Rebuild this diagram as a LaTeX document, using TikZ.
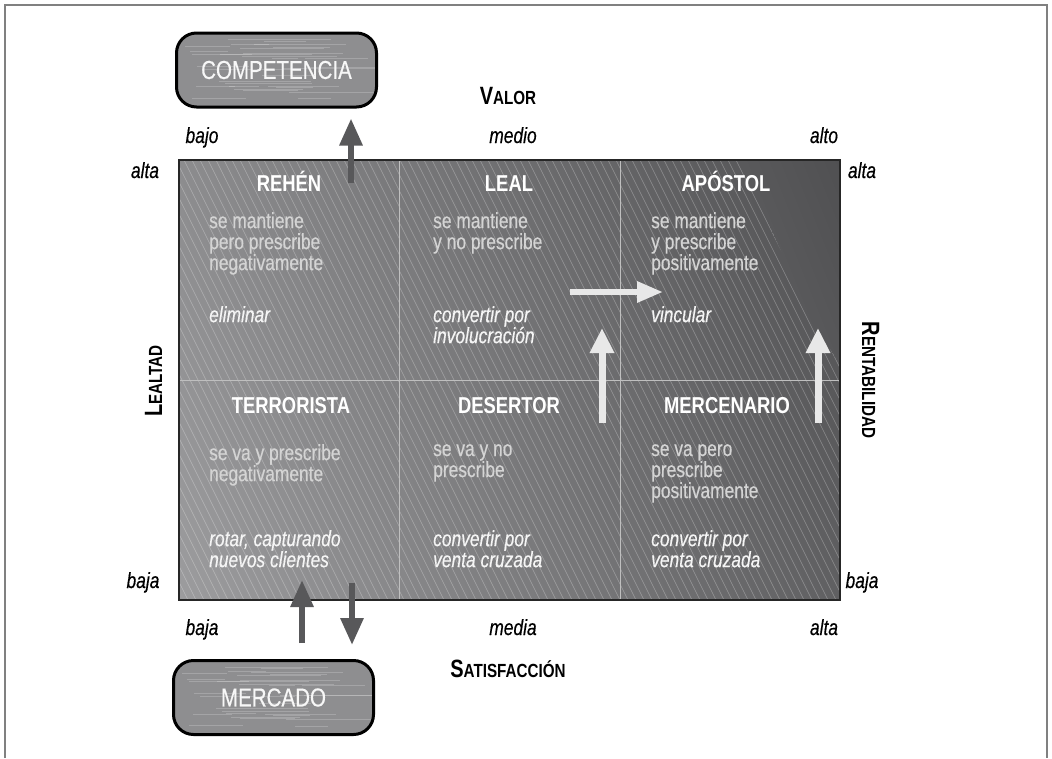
\documentclass[tikz,border=0pt]{standalone}
\usepackage{fontspec}
\setmainfont{Liberation Sans}[FakeStretch=0.8]
\newfontfamily\cellfont{Liberation Sans}[FakeStretch=0.79, FakeBold=0.35]
\usetikzlibrary{positioning,arrows.meta,calc,shadings}
\definecolor{darkarr}{HTML}{58585A}
\definecolor{boxgray}{HTML}{8E8E90}
\definecolor{gul}{HTML}{8C8C8E}
\definecolor{gur}{HTML}{505052}
\definecolor{gll}{HTML}{9C9C9E}
\definecolor{glr}{HTML}{606062}

\begin{document}
\begin{tikzpicture}[
    x=1pt, y=-1pt,
    cellhead/.style={font=\fontsize{23}{23}\selectfont\bfseries, text=white, anchor=base},
    celltext/.style={font=\cellfont\fontsize{22}{21}\selectfont, text=black!17, align=left, anchor=north west, inner sep=0pt},
    cellact/.style={font=\cellfont\fontsize{22}{21}\selectfont\itshape, text=black!4, align=left, anchor=north west, inner sep=0pt},
    axlab/.style={font=\cellfont\fontsize{22}{22}\selectfont\itshape, anchor=base},
    axtitle/.style={font=\fontsize{25}{25}\selectfont\bfseries, anchor=base},
    market/.style={draw=black, line width=3pt, rounded corners=20pt, fill=boxgray, minimum width=200pt, minimum height=74pt,
        text=black!3, font=\cellfont\fontsize{26}{26}\selectfont,
        path picture={\pgfmathsetseed{7}\foreach \k in {1,...,30}
            \draw[white, opacity=0.2, line width=0.5pt] ($(path picture bounding box.north west)+(5+rnd*140,3+rnd*70)$) -- ++(25+rnd*80,0);}},
    darkarrow/.style={draw=darkarr, line width=6pt, -{Triangle[width=22pt,length=27pt]}},
    lightarrow/.style={draw=black!9, line width=7pt, -{Triangle[width=23pt,length=25pt]}},
]
\useasboundingbox (0,0) rectangle (1052,758);
\draw[black!50, line width=1.5pt] (5,758) -- (5,5) -- (1047,5) -- (1047,758);

% matrix background
\coordinate (nw) at (179,160);
\coordinate (se) at (840,600);
\shade[upper left=gul, upper right=gur, lower left=gll, lower right=glr] (nw) rectangle (se);
\begin{scope}
  \clip (179,160) -- (740,160) -- (812,320) -- (840,365) -- (840,600) -- (179,600) -- cycle;
  \foreach \x in {-40,-32,...,840}
    \draw[white, opacity=0.3, line width=0.5pt] (\x,160) -- ++(220,440);
\end{scope}
\draw[black!25, line width=1pt] (399,160) -- (399,600) (620,160) -- (620,600) (179,380) -- (840,380);
\draw[black!85, line width=2pt] (nw) rectangle (se);

% cells
\node[cellhead] (rehen) at (289,191) {REHÉN};
\node[cellhead] (leal) at (509,191) {LEAL};
\node[cellhead] (apostol) at (726,191) {APÓSTOL};
\node[cellhead] (terror) at (291,413) {TERRORISTA};
\node[cellhead] (desertor) at (509,413) {DESERTOR};
\node[cellhead] (merc) at (727,413) {MERCENARIO};

\node[celltext] (t1) at (209,212) {se mantiene\\pero prescribe\\negativamente};
\node[celltext] (t2) at (433,212) {se mantiene\\y no prescribe};
\node[celltext] (t3) at (651,212) {se mantiene\\y prescribe\\positivamente};
\node[celltext] (t4) at (209,444) {se va y prescribe\\negativamente};
\node[celltext] (t5) at (433,444) {se va y no\\prescribe};
\node[celltext] (t6) at (651,444) {se va pero\\prescribe\\positivamente};

\node[cellact] (a1) at (209,306) {eliminar};
\node[cellact] (a2) at (433,306) {convertir por\\involucración};
\node[cellact] (a3) at (651,306) {vincular};
\node[cellact] (a4) at (209,530) {rotar, capturando\\nuevos clientes};
\node[cellact] (a5) at (433,530) {convertir por\\venta cruzada};
\node[cellact] (a6) at (651,530) {convertir por\\venta cruzada};

% axes
\node[axtitle] (valor) at (508,104) {V{\fontsize{19}{19}\selectfont ALOR}};
\node[axtitle] (satis) at (508,677) {S{\fontsize{19}{19}\selectfont ATISFACCIÓN}};
\node[axtitle, rotate=90] (lealtad) at (162,381) {L{\fontsize{19}{19}\selectfont EALTAD}};
\node[axtitle, rotate=-90] (rentab) at (862,380) {R{\fontsize{19}{19}\selectfont ENTABILIDAD}};

\node[axlab] (v1) at (202,143) {bajo};
\node[axlab] (v2) at (513,143) {medio};
\node[axlab] (v3) at (824,143) {alto};
\node[axlab] (s1) at (202,635) {baja};
\node[axlab] (s2) at (513,635) {media};
\node[axlab] (s3) at (824,635) {alta};
\node[axlab] (l1) at (145,178) {alta};
\node[axlab] (l2) at (143,588) {baja};
\node[axlab] (r1) at (862,178) {alta};
\node[axlab] (r2) at (862,588) {baja};

% boxes
\node[market] (comp) at (276.5,70) {COMPETENCIA};
\node[market] (mercado) at (273.5,697.5) {MERCADO};

% arrows
\coordinate (c0) at (351,183);
\coordinate (m0) at (302,643);
\coordinate (m1) at (302,580);
\coordinate (m2) at (352,583);
\coordinate (m3) at (352,645);
\draw[darkarrow, shorten >=10pt] (c0) -- (c0 |- comp.south);
\draw[darkarrow] (m0) -- (m1);
\draw[darkarrow] (m2) -- (m3);

\coordinate (h0) at (570,292);
\coordinate (h1) at (663,292);
\coordinate (u0) at (602,423);
\coordinate (u1) at (602,328);
\coordinate (w0) at (818,423);
\coordinate (w1) at (818,328);
\draw[lightarrow, line width=6pt, -{Triangle[width=20pt,length=26pt]}] (h0) -- (h1);
\draw[lightarrow] (u0) -- (u1);
\draw[lightarrow] (w0) -- (w1);
\end{tikzpicture}
\end{document}
